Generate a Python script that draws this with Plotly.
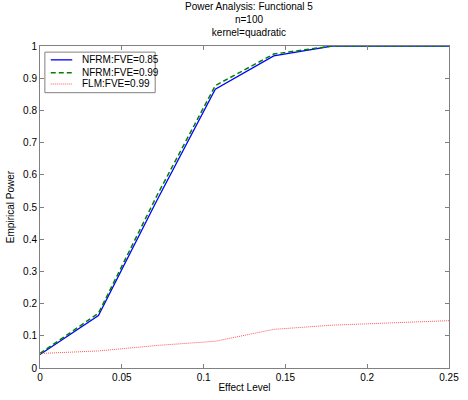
import plotly.graph_objects as go

effect = [0, 0.25/7, 0.5/7, 0.75/7, 1.0/7, 1.25/7, 1.5/7, 0.25]
nfrm_85 = [0.042, 0.163, 0.52, 0.866, 0.969, 1.0, 1.0, 1.0]
nfrm_99 = [0.045, 0.170, 0.535, 0.877, 0.975, 1.0, 1.0, 1.0]
flm_99 = [0.045, 0.053, 0.070, 0.083, 0.120, 0.133, 0.140, 0.147]
names = ["NFRM:FVE=0.85", "NFRM:FVE=0.99", "FLM:FVE=0.99"]
styles = [dict(color="#0000ff", width=1.3),
          dict(color="#008000", width=1.5, dash="5px,3px"),
          dict(color="#ff5555", width=1, dash="1px,1px")]

fig = go.Figure()
for yv, nm, st in zip([nfrm_85, nfrm_99, flm_99], names, styles):
    fig.add_trace(go.Scatter(x=effect, y=yv, mode="lines", name=nm, line=st,
                             showlegend=False))

# compact legend box (MATLAB style)
fig.add_shape(type="rect", xref="paper", yref="paper", x0=0.0119, x1=0.2816,
              y0=0.855, y1=0.981, line=dict(color="#808080", width=1),
              fillcolor="white", layer="above")
for yy, nm, st in zip([0.957, 0.917, 0.882], names, styles):
    fig.add_shape(type="line", xref="paper", yref="paper", x0=0.0263, x1=0.0788,
                  y0=yy, y1=yy, line=st, layer="above")
    fig.add_annotation(xref="paper", yref="paper", x=0.0979, y=yy, text=nm,
                       showarrow=False, xanchor="left", yanchor="middle",
                       font=dict(size=10, color="black"))

axis_common = dict(showgrid=False, zeroline=False, showline=True, linecolor="#808080",
                   linewidth=1, mirror="ticks", ticks="inside", ticklen=4,
                   tickcolor="#808080", tickfont=dict(size=10, color="black"))

fig.update_layout(
    width=468, height=400,
    margin=dict(l=40, r=9, t=46, b=30),
    paper_bgcolor="white", plot_bgcolor="white",
    font=dict(family="Liberation Sans, Arial, sans-serif", size=10, color="black"),
    title=dict(text="Power Analysis: Functional 5<br>n=100<br>kernel=quadratic",
               x=0.532, xanchor="center", y=0.975, yanchor="top",
               font=dict(size=10)),
    xaxis=dict(range=[0, 0.25], tickvals=[0, 0.05, 0.1, 0.15, 0.2, 0.25],
               ticktext=["0", "0.05", "0.1", "0.15", "0.2", "0.25"],
               ticklabeloverflow="allow",
               title=dict(text="Effect Level", font=dict(size=10), standoff=1),
               **axis_common),
    yaxis=dict(range=[0, 1], tickvals=[i / 10 for i in range(11)],
               ticktext=["0", "0.1", "0.2", "0.3", "0.4", "0.5", "0.6", "0.7", "0.8", "0.9", "1"],
               title=dict(text="Empirical Power", font=dict(size=10), standoff=6),
               **axis_common),
    showlegend=False,
)

fig.write_html("out.html")
